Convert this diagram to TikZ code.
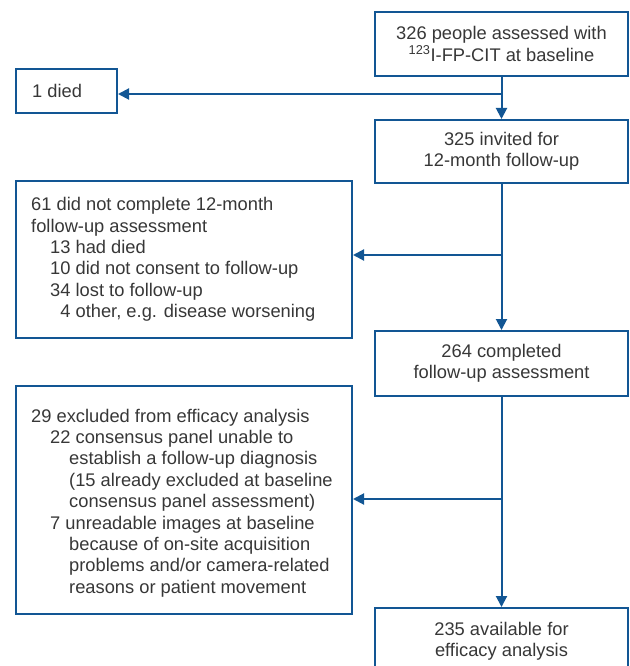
\documentclass[tikz,border=0pt]{standalone}
\usepackage{fontspec}
\setmainfont{Liberation Sans}
\usetikzlibrary{arrows.meta}
\definecolor{flowblue}{RGB}{18,86,148}
\definecolor{flowtext}{RGB}{55,55,55}
\begin{document}
\begin{tikzpicture}[x=1pt,y=-1pt,
  frame/.style={draw=flowblue, line width=2pt, inner sep=0pt},
  txt/.style={text=flowtext, inner sep=0pt, font=\fontsize{18.3}{21.4}\selectfont},
  rbox/.style={frame, txt, minimum width=253pt, align=center},
  ltext/.style={txt, align=left, anchor=west},
  link/.style={draw=flowblue, line width=2pt},
  arr/.style={link, -{Triangle[length=11pt,width=11pt]}}]
\clip (0,0) rectangle (629,666);

% right column
\node[rbox, minimum height=64pt] (base) at (501.5,44)
  {326 people assessed with\\\textsuperscript{123}I-FP-CIT at baseline};
\node[rbox, minimum height=63pt] (inv) at (501.5,151.5)
  {325 invited for\\12-month follow-up};
\node[rbox, minimum height=65pt] (comp) at (501.5,363.5)
  {264 completed\\follow-up assessment};
\node[rbox, minimum height=66pt] (avail) at (501.5,641)
  {235 available for\\efficacy analysis};

% left column
\node[frame, anchor=north west, minimum width=101pt, minimum height=44pt] (died) at (15,68) {};
\node[ltext] (diedtext) at ([xshift=17pt]died.west) {1 died};

\node[frame, anchor=north west, minimum width=336pt, minimum height=157pt] (nc) at (15,180) {};
\node[ltext] (nctext) at ([xshift=16pt]nc.west)
  {61 did not complete 12-month\\
   follow-up assessment\\
   \hspace*{19pt}13 had died\\
   \hspace*{19pt}10 did not consent to follow-up\\
   \hspace*{19pt}34 lost to follow-up\\
   \hspace*{19pt}\hphantom{1}4 other, e.g. disease worsening};

\node[frame, anchor=north west, minimum width=336pt, minimum height=228pt] (exc) at (15,385) {};
\node[ltext] (exctext) at ([xshift=16pt,yshift=-3pt]exc.west)
  {29 excluded from efficacy analysis\\
   \hspace*{19pt}22 consensus panel unable to\\
   \hspace*{38pt}establish a follow-up diagnosis\\
   \hspace*{38pt}(15 already excluded at baseline\\
   \hspace*{38pt}consensus panel assessment)\\
   \hspace*{19pt}7 unreadable images at baseline\\
   \hspace*{38pt}because of on-site acquisition\\
   \hspace*{38pt}problems and/or camera-related\\
   \hspace*{38pt}reasons or patient movement};

% connectors
\coordinate (j1) at (501.5,94);
\coordinate (j2) at (501.5,255);
\coordinate (j3) at (501.5,499);
\draw[arr] (base.south) -- (inv.north);
\draw[arr] (inv.south) -- (comp.north);
\draw[arr] (comp.south) -- (avail.north);
\draw[arr] (j1) -- (died.east |- j1);
\draw[arr] (j2) -- (nc.east |- j2);
\draw[arr] (j3) -- (exc.east |- j3);
\end{tikzpicture}
\end{document}
